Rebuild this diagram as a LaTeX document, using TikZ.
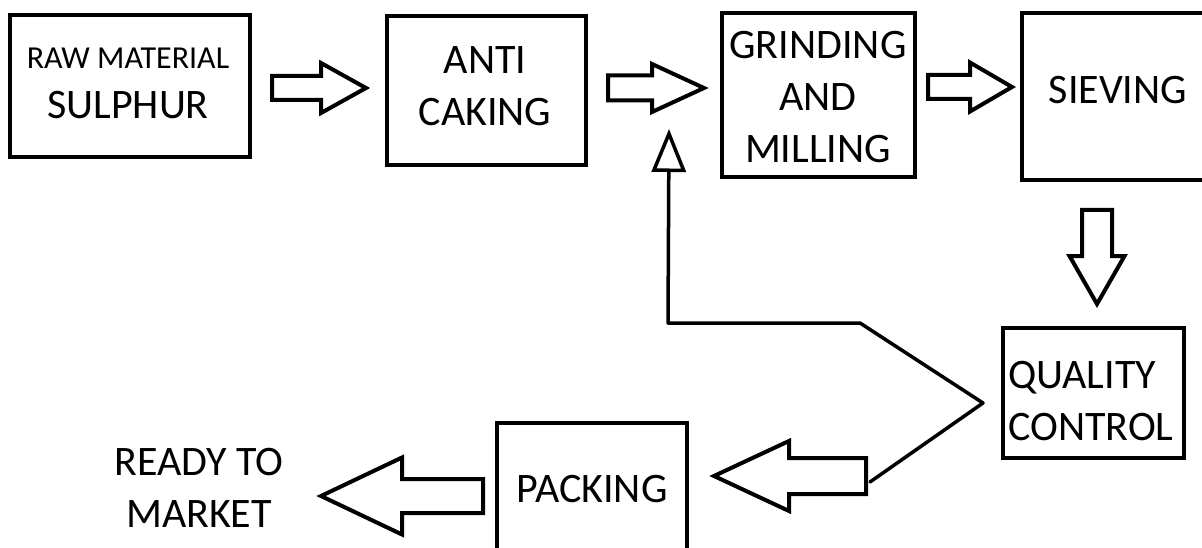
\documentclass[tikz,border=0pt]{standalone}
\usepackage{fontspec}
\setmainfont{Carlito}
\usetikzlibrary{calc,arrows.meta}
\newcommand\stagefont{\fontsize{42}{52}\selectfont}
\newcommand\smallstagefont{\fontsize{32}{50}\selectfont}
\tikzset{
  stage/.style={draw, line width=4.5pt, inner sep=0pt, line join=miter},
  caption/.style={inner sep=0pt, align=center, font=\stagefont},
  blockarrow/.style={draw, line width=4pt, line join=miter},
  feedback/.style={draw, line width=3.5pt, ->},
}
\begin{document}
\begin{tikzpicture}[x=1pt, y=-1pt, line join=round, line cap=round, >={Triangle[open,length=43pt,width=34pt]}]
\useasboundingbox[fill=white] (0,0) rectangle (1202,548);

% boxes
\node[stage, minimum width=240pt, minimum height=142pt] (raw) at (130,86) {};
\node[stage, minimum width=199pt, minimum height=149pt] (anti) at (486.5,90.5) {};
\node[stage, minimum width=193pt, minimum height=164pt] (grind) at (818.5,95) {};
\node[stage, minimum width=188pt, minimum height=167pt] (sieve) at (1116,96.5) {};
\node[stage, minimum width=181pt, minimum height=130pt] (qc) at (1093.5,393) {};
\node[stage, minimum width=190pt, minimum height=137pt] (pack) at (592,491.5) {};

% texts
\node[caption, font=\fontsize{42}{50}\selectfont] (rawtxt) at (128,83) {{\smallstagefont RAW MATERIAL}\\SULPHUR};
\node[caption] (antitxt) at (485,86) {ANTI\\CAKING};
\node[caption] (grindtxt) at (818,97) {GRINDING\\AND\\MILLING};
\node[caption] (sievetxt) at (1118,90) {SIEVING};
\node[caption, align=left, anchor=west] (qctxt) at (1008,401) {QUALITY\\CONTROL};
\node[caption] (packtxt) at (592,489) {PACKING};
\node[caption] (readytxt) at (199,488) {READY TO\\MARKET};

% block arrows
\coordinate (a1s) at (272,88);
\coordinate (a1e) at (366,88);
\coordinate (a2s) at (608,88);
\coordinate (a2e) at (704,88);
\coordinate (a3s) at (928,87);
\coordinate (a3e) at (1012,87);
\coordinate (a4s) at (1097,210);
\coordinate (a4e) at (1097,304);
\coordinate (a5s) at (866,476);
\coordinate (a5e) at (714,476);
\coordinate (a6s) at (483,496);
\coordinate (a6e) at (321,496);

\foreach \from/\to/\shaft/\head/\len in {a1s/a1e/12pt/25pt/45pt,a2s/a2e/12.5pt/24pt/52pt,a3s/a3e/12pt/24.5pt/42pt,a4s/a4e/15pt/27.5pt/48pt,a5s/a5e/18pt/35pt/75pt,a6s/a6e/17pt/38.5pt/81pt}
{
\coordinate (hb) at ($(\to)!\len!(\from)$);
\draw[blockarrow]
($(\from)!\shaft!90:(\to)$)--($(hb)!\shaft!90:(\to)$)--($(hb)!\head!90:(\to)$)--(\to)
--($(hb)!\head!-90:(\to)$)--($(hb)!\shaft!-90:(\to)$)--($(\from)!\shaft!-90:(\to)$)--cycle
;
}

% feedback line
\coordinate (fb1) at (870,482);
\coordinate (fb2) at (983,403);
\coordinate (fb3) at (860,323);
\coordinate (fb4) at (668,323);
\coordinate (fb5) at (669,129);
\draw[feedback] (fb1)--(fb2)--(fb3)--(fb4)--(fb5);
\end{tikzpicture}
\end{document}
